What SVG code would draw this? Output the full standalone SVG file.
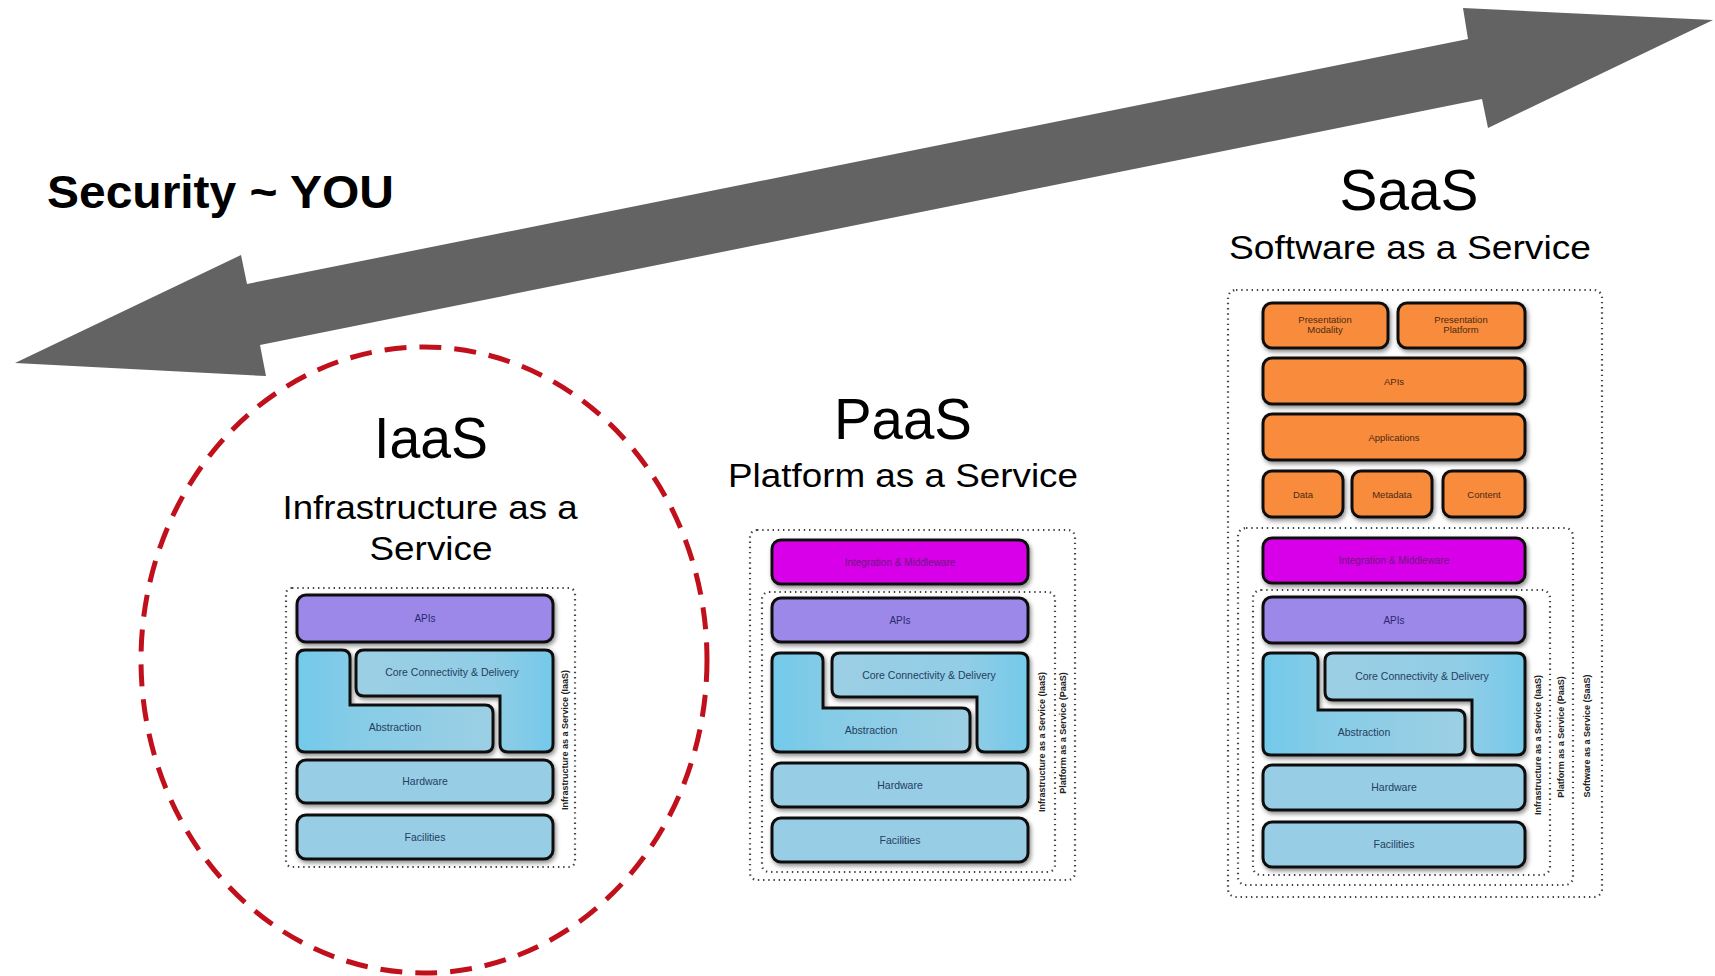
<svg xmlns="http://www.w3.org/2000/svg" width="1715" height="976" viewBox="0 0 1715 976">
<defs>
<filter id="sh" x="-10%" y="-20%" width="120%" height="150%">
<feDropShadow dx="1.5" dy="2.5" stdDeviation="2" flood-color="#000" flood-opacity="0.45"/>
</filter>
<linearGradient id="gAbs" x1="0" y1="0" x2="1" y2="0">
<stop offset="0" stop-color="#72c9ea"/>
<stop offset="0.3" stop-color="#86cce7"/>
<stop offset="1" stop-color="#9ccfe4"/>
</linearGradient>
<linearGradient id="gCore" x1="0" y1="0" x2="1" y2="0">
<stop offset="0" stop-color="#9ccfe4"/>
<stop offset="0.7" stop-color="#90cde6"/>
<stop offset="1" stop-color="#74c9ea"/>
</linearGradient>
<style>
.box{stroke:#111;stroke-width:3;filter:url(#sh)}
.blue{fill:#97cde5}
.purple{fill:#9b88e8}
.mag{fill:#d800e8}
.orange{fill:#f98b3c}
.dot{fill:none;stroke:#444;stroke-width:2.2;stroke-dasharray:1.4 3.8}
.lbl{font-family:"Liberation Sans",Arial,sans-serif;font-size:10.5px;text-anchor:middle;fill:#24405f}
.olbl{font-family:"Liberation Sans",Arial,sans-serif;font-size:9.5px;text-anchor:middle;fill:#4a2a12}
.mlbl{font-family:"Liberation Sans",Arial,sans-serif;font-size:10px;text-anchor:middle;fill:#6e1680}
.plbl{font-family:"Liberation Sans",Arial,sans-serif;font-size:10px;text-anchor:middle;fill:#2c2870}
.vlbl{font-family:"Liberation Sans",Arial,sans-serif;font-size:9px;font-weight:bold;text-anchor:middle;fill:#222}
.title{font-family:"Liberation Sans",Arial,sans-serif;text-anchor:middle;fill:#000}
</style>
</defs>
<rect width="1715" height="976" fill="#fff"/>

<g id="connectors">
<polygon points="15,363 241,255 247,284 1468,39 1463,8 1713,20 1488,128 1482,99 260,345 266,376" fill="#636363"/>
</g>

<g id="security-label">
<text class="title" x="47" y="208" style="text-anchor:start" font-size="47" font-weight="bold" textLength="347" lengthAdjust="spacingAndGlyphs">Security ~ YOU</text>
</g>

<g id="iaas-highlight">
<ellipse cx="424" cy="660" rx="283" ry="313" fill="none" stroke="#c0101c" stroke-width="5" stroke-dasharray="22 13"/>
</g>

<g id="iaas">
<text class="title" x="431" y="458" font-size="58" textLength="114" lengthAdjust="spacingAndGlyphs">IaaS</text>
<text class="title" x="430" y="519" font-size="33" textLength="295" lengthAdjust="spacingAndGlyphs">Infrastructure as a</text>
<text class="title" x="431" y="560" font-size="33" textLength="123" lengthAdjust="spacingAndGlyphs">Service</text>
<rect class="dot" x="286" y="588" width="289" height="279" rx="6"/>
<rect class="box purple" x="297" y="595" width="256" height="47" rx="9"/>
<text class="plbl" x="425" y="622">APIs</text>
<path class="box" fill="url(#gAbs)" d="M305,650 H342 Q350,650 350,658 V705 H485 Q493,705 493,713 V744 Q493,752 485,752 H305 Q297,752 297,744 V658 Q297,650 305,650 Z"/>
<path class="box" fill="url(#gCore)" d="M364,650 H545 Q553,650 553,658 V744 Q553,752 545,752 H508 Q500,752 500,744 V696 H364 Q356,696 356,688 V658 Q356,650 364,650 Z"/>
<text class="lbl" x="452" y="676">Core Connectivity &amp; Delivery</text>
<text class="lbl" x="395" y="731">Abstraction</text>
<rect class="box blue" x="297" y="760" width="256" height="43" rx="9"/>
<text class="lbl" x="425" y="785">Hardware</text>
<rect class="box blue" x="297" y="815" width="256" height="44" rx="9"/>
<text class="lbl" x="425" y="841">Facilities</text>
<text class="vlbl" transform="translate(568,740) rotate(-90)">Infrastructure as a Service (IaaS)</text>
</g>

<g id="paas">
<text class="title" x="903" y="439" font-size="58" textLength="138" lengthAdjust="spacingAndGlyphs">PaaS</text>
<text class="title" x="903" y="487" font-size="34" textLength="350" lengthAdjust="spacingAndGlyphs">Platform as a Service</text>
<rect class="dot" x="750" y="530" width="325" height="350" rx="7"/>
<rect class="dot" x="762" y="592" width="293" height="280" rx="7"/>
<rect class="box mag" x="772" y="540" width="256" height="44" rx="9"/>
<text class="mlbl" x="900" y="566">Integration &amp; Middleware</text>
<rect class="box purple" x="772" y="598" width="256" height="44" rx="9"/>
<text class="plbl" x="900" y="624">APIs</text>
<path class="box" fill="url(#gAbs)" d="M780,653 H815 Q823,653 823,661 V708 H962 Q970,708 970,716 V744 Q970,752 962,752 H780 Q772,752 772,744 V661 Q772,653 780,653 Z"/>
<path class="box" fill="url(#gCore)" d="M840,653 H1020 Q1028,653 1028,661 V744 Q1028,752 1020,752 H985 Q977,752 977,744 V697 H840 Q832,697 832,689 V661 Q832,653 840,653 Z"/>
<text class="lbl" x="929" y="679">Core Connectivity &amp; Delivery</text>
<text class="lbl" x="871" y="734">Abstraction</text>
<rect class="box blue" x="772" y="763" width="256" height="44" rx="9"/>
<text class="lbl" x="900" y="789">Hardware</text>
<rect class="box blue" x="772" y="818" width="256" height="44" rx="9"/>
<text class="lbl" x="900" y="844">Facilities</text>
<text class="vlbl" transform="translate(1045,742) rotate(-90)">Infrastructure as a Service (IaaS)</text>
<text class="vlbl" transform="translate(1066,733) rotate(-90)">Platform as a Service (PaaS)</text>
</g>

<g id="saas">
<text class="title" x="1409" y="210" font-size="58" textLength="139" lengthAdjust="spacingAndGlyphs">SaaS</text>
<text class="title" x="1410" y="259" font-size="34" textLength="362" lengthAdjust="spacingAndGlyphs">Software as a Service</text>
<rect class="dot" x="1228" y="290" width="374" height="607" rx="8"/>
<rect class="dot" x="1238" y="528" width="335" height="357" rx="8"/>
<rect class="dot" x="1253" y="590" width="297" height="285" rx="8"/>
<rect class="box orange" x="1263" y="303" width="125" height="45" rx="9"/>
<text class="olbl" x="1325" y="323">Presentation</text>
<text class="olbl" x="1325" y="333">Modality</text>
<rect class="box orange" x="1398" y="303" width="127" height="45" rx="9"/>
<text class="olbl" x="1461" y="323">Presentation</text>
<text class="olbl" x="1461" y="333">Platform</text>
<rect class="box orange" x="1263" y="358" width="262" height="46" rx="9"/>
<text class="olbl" x="1394" y="385">APIs</text>
<rect class="box orange" x="1263" y="414" width="262" height="46" rx="9"/>
<text class="olbl" x="1394" y="441">Applications</text>
<rect class="box orange" x="1263" y="471" width="80" height="46" rx="9"/>
<text class="olbl" x="1303" y="498">Data</text>
<rect class="box orange" x="1352" y="471" width="80" height="46" rx="9"/>
<text class="olbl" x="1392" y="498">Metadata</text>
<rect class="box orange" x="1443" y="471" width="82" height="46" rx="9"/>
<text class="olbl" x="1484" y="498">Content</text>
<rect class="box mag" x="1263" y="538" width="262" height="45" rx="9"/>
<text class="mlbl" x="1394" y="564">Integration &amp; Middleware</text>
<rect class="box purple" x="1263" y="597" width="262" height="46" rx="9"/>
<text class="plbl" x="1394" y="624">APIs</text>
<path class="box" fill="url(#gAbs)" d="M1271,653 H1310 Q1318,653 1318,661 V710 H1457 Q1465,710 1465,718 V747 Q1465,755 1457,755 H1271 Q1263,755 1263,747 V661 Q1263,653 1271,653 Z"/>
<path class="box" fill="url(#gCore)" d="M1333,653 H1517 Q1525,653 1525,661 V747 Q1525,755 1517,755 H1480 Q1472,755 1472,747 V700 H1333 Q1325,700 1325,692 V661 Q1325,653 1333,653 Z"/>
<text class="lbl" x="1422" y="680">Core Connectivity &amp; Delivery</text>
<text class="lbl" x="1364" y="736">Abstraction</text>
<rect class="box blue" x="1263" y="765" width="262" height="45" rx="9"/>
<text class="lbl" x="1394" y="791">Hardware</text>
<rect class="box blue" x="1263" y="822" width="262" height="45" rx="9"/>
<text class="lbl" x="1394" y="848">Facilities</text>
<text class="vlbl" transform="translate(1541,745) rotate(-90)">Infrastructure as a Service (IaaS)</text>
<text class="vlbl" transform="translate(1564,737) rotate(-90)">Platform as a Service (PaaS)</text>
<text class="vlbl" transform="translate(1590,736) rotate(-90)">Software as a Service (SaaS)</text>
</g>
</svg>
